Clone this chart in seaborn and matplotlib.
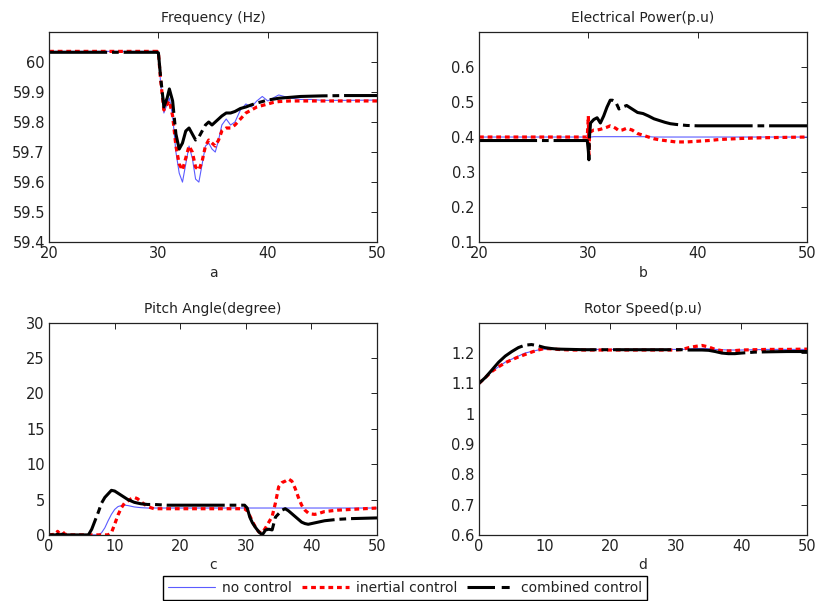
import seaborn as sns
import matplotlib
matplotlib.use('Agg')
import matplotlib.pyplot as plt

# a: frequency
t_freq = [20, 29.9, 30.0, 30.2, 30.5, 30.8, 31.0, 31.3, 31.6, 31.9,
          32.2, 32.5, 32.8, 33.1, 33.4, 33.7, 34.0, 34.3, 34.6, 34.9,
          35.2, 35.5, 35.8, 36.2, 36.6, 37.0, 37.5, 38.0, 38.5, 39.0,
          39.5, 40.0, 40.5, 41.0, 42.0, 43.0, 44.0, 45.0, 47.0, 50.0]
freq_none = [60.035, 60.035, 60.03, 59.93, 59.83, 59.86, 59.88, 59.82, 59.70, 59.63,
             59.60, 59.66, 59.72, 59.68, 59.61, 59.60, 59.66, 59.72, 59.73, 59.71,
             59.70, 59.74, 59.79, 59.81, 59.79, 59.80, 59.84, 59.86, 59.85, 59.87,
             59.885, 59.87, 59.88, 59.89, 59.88, 59.875, 59.875, 59.872, 59.872, 59.873]
freq_inertial = [60.035, 60.035, 60.03, 59.94, 59.84, 59.86, 59.87, 59.82, 59.72, 59.66,
                 59.64, 59.68, 59.72, 59.70, 59.65, 59.64, 59.67, 59.72, 59.74, 59.73,
                 59.72, 59.74, 59.77, 59.78, 59.78, 59.79, 59.81, 59.83, 59.84, 59.85,
                 59.855, 59.86, 59.865, 59.868, 59.87, 59.87, 59.87, 59.87, 59.87, 59.87]
freq_combined = [60.032, 60.032, 60.03, 59.95, 59.85, 59.88, 59.91, 59.87, 59.76, 59.71,
                 59.73, 59.77, 59.78, 59.76, 59.74, 59.75, 59.77, 59.79, 59.80, 59.79,
                 59.80, 59.81, 59.82, 59.83, 59.83, 59.835, 59.845, 59.85, 59.857, 59.863,
                 59.868, 59.873, 59.876, 59.879, 59.882, 59.885, 59.886, 59.887, 59.888, 59.888]

# b: electrical power
t_power = [20, 29.9, 30.0, 30.05, 30.1, 30.2, 30.5, 30.8, 31.1, 31.4,
           31.7, 32.0, 32.2, 32.5, 32.8, 33.1, 33.5, 34.0, 34.5, 35.0,
           35.5, 36.0, 36.5, 37.0, 37.5, 38.0, 39.0, 40.0, 41.0, 42.0,
           44.0, 46.0, 48.0, 50.0]
power_none = [0.40, 0.40, 0.45, 0.40, 0.40, 0.40, 0.401, 0.401, 0.401, 0.401,
              0.401, 0.401, 0.401, 0.401, 0.401, 0.401, 0.401, 0.401, 0.401, 0.401,
              0.401, 0.40, 0.40, 0.40, 0.40, 0.40, 0.40, 0.40, 0.40, 0.40,
              0.40, 0.40, 0.40, 0.40]
power_inertial = [0.40, 0.40, 0.46, 0.35, 0.40, 0.415, 0.42, 0.42, 0.422, 0.425,
                  0.428, 0.432, 0.43, 0.425, 0.418, 0.42, 0.425, 0.42, 0.41, 0.405,
                  0.40, 0.395, 0.392, 0.39, 0.388, 0.386, 0.386, 0.388, 0.39, 0.393,
                  0.396, 0.398, 0.399, 0.40]
power_combined = [0.39, 0.39, 0.36, 0.335, 0.40, 0.44, 0.45, 0.455, 0.44, 0.46,
                  0.485, 0.505, 0.505, 0.50, 0.48, 0.485, 0.49, 0.48, 0.47, 0.467,
                  0.46, 0.452, 0.447, 0.442, 0.438, 0.436, 0.433, 0.432, 0.432, 0.432,
                  0.432, 0.432, 0.432, 0.432]

# c: pitch angle
t_pitch = [0, 1.0, 1.3, 1.6, 2.0, 2.4, 3.0,
           6.0, 6.5, 7.0, 7.5, 8.0, 8.5, 9.0, 9.5,
           10.0, 10.5, 11.0, 11.5, 12.0, 12.5, 13.0, 13.5, 14.0,
           15.0, 16.0, 18.0, 20.0, 25.0, 29.8,
           30.2, 30.6, 31.0, 31.5, 32.0, 32.5, 33.0, 33.5, 34.0, 34.5,
           35.0, 35.5, 36.0, 36.5, 37.0, 37.5, 38.0, 38.5, 39.0, 39.5,
           40.0, 40.5, 41.0, 42.0, 43.0, 44.0, 46.0, 48.0, 50.0]
pitch_none = [0, 0, 0, 0, 0, 0, 0,
              0, 0, 0, 0, 0.3, 1.0, 2.0, 2.9,
              3.6, 4.0, 4.15, 4.2, 4.15, 4.05, 3.95, 3.9, 3.85,
              3.8, 3.8, 3.8, 3.8, 3.8, 3.8,
              3.8, 3.8, 3.8, 3.8, 3.8, 3.8, 3.8, 3.8, 3.8, 3.8,
              3.8, 3.8, 3.8, 3.8, 3.8, 3.8, 3.8, 3.8, 3.8, 3.8,
              3.8, 3.8, 3.8, 3.8, 3.8, 3.8, 3.8, 3.8, 3.8]
pitch_inertial = [0, 0.1, 0.5, 0.2, 0.5, 0.1, 0,
                  0, 0, 0, 0, 0, 0, 0, 0.3,
                  1.5, 2.8, 3.8, 4.5, 4.8, 5.1, 5.3, 5.1, 4.7,
                  4.0, 3.7, 3.7, 3.7, 3.7, 3.7,
                  3.4, 2.7, 1.9, 1.0, 0.4, 0.3, 1.0, 1.8, 2.6, 4.5,
                  6.8, 7.4, 7.6, 7.9, 7.6, 6.6, 5.3, 4.2, 3.5, 3.1,
                  2.95, 2.9, 3.0, 3.3, 3.4, 3.5, 3.6, 3.7, 3.8]
pitch_combined = [0, 0, 0.1, 0, 0.1, 0, 0,
                  0, 0.8, 2.0, 3.2, 4.5, 5.3, 5.8, 6.3,
                  6.2, 5.9, 5.6, 5.3, 5.0, 4.8, 4.6, 4.5, 4.4,
                  4.3, 4.3, 4.2, 4.2, 4.2, 4.2,
                  3.8, 2.5, 1.7, 1.0, 0.4, 0.0, 0.7, 0.8, 0.7, 2.5,
                  3.0, 3.5, 3.7, 3.4, 3.0, 2.6, 2.2, 1.8, 1.6, 1.5,
                  1.6, 1.7, 1.8, 2.0, 2.1, 2.2, 2.3, 2.35, 2.4]

# d: rotor speed
t_speed = [0, 1, 2, 3, 4, 5, 6, 7, 8, 9, 10, 11, 12, 14, 16, 20,
           25, 30, 31, 32, 33, 34, 35, 36, 37, 38, 39, 40, 42, 44, 47, 50]
speed_none = [1.10, 1.12, 1.14, 1.155, 1.17, 1.18, 1.19, 1.20, 1.205, 1.21, 1.213, 1.213, 1.212, 1.212, 1.212, 1.212,
              1.212, 1.212, 1.212, 1.213, 1.215, 1.215, 1.214, 1.212, 1.211, 1.21, 1.21, 1.21, 1.211, 1.212, 1.212, 1.212]
speed_inertial = [1.10, 1.12, 1.14, 1.155, 1.168, 1.178, 1.187, 1.195, 1.203, 1.21, 1.215, 1.214, 1.212, 1.21, 1.21, 1.21,
                  1.21, 1.21, 1.212, 1.218, 1.222, 1.225, 1.22, 1.212, 1.208, 1.207, 1.208, 1.21, 1.211, 1.212, 1.212, 1.213]
speed_combined = [1.10, 1.12, 1.145, 1.17, 1.19, 1.205, 1.218, 1.226, 1.228, 1.224, 1.218, 1.215, 1.213, 1.212, 1.211, 1.211,
                  1.211, 1.211, 1.211, 1.21, 1.21, 1.21, 1.209, 1.205, 1.20, 1.198, 1.198, 1.20, 1.203, 1.204, 1.205, 1.205]

series_labels = ['no control', 'inertial control', 'combined control']

sns.set_style('white')
plt.rcParams['font.family'] = ['DejaVu Sans']
plt.rcParams['text.color'] = '#222222'


def draw_panel(ax, t, none, inertial, combined, title, letter, xlim, ylim, yticks, yticklabels, xticks):
    sns.lineplot(x=t, y=none, ax=ax, color='#5b5bff', linewidth=0.8, estimator=None, legend=False)
    sns.lineplot(x=t, y=inertial, ax=ax, color='#ff0000', linewidth=2.3, estimator=None,
                 legend=False, linestyle=(0, (1.5, 1.2)))
    sns.lineplot(x=t, y=combined, ax=ax, color='black', linewidth=2.2, estimator=None,
                 legend=False, linestyle=(0, (19, 1.6, 2.2, 1.6)))
    ax.set_xlim(xlim)
    ax.set_ylim(ylim)
    ax.set_xticks(xticks)
    ax.set_xticklabels([str(v) for v in xticks])
    ax.set_yticks(yticks)
    ax.set_yticklabels(yticklabels)
    ax.set_title(title, fontsize=10, pad=7)
    ax.set_xlabel(letter, fontsize=10, labelpad=3)
    ax.set_ylabel('')
    ax.tick_params(direction='in', top=True, right=True, length=4, width=0.7,
                   labelsize=10.5, pad=3, colors='#222222')
    for sp in ax.spines.values():
        sp.set_color('#222222')
        sp.set_linewidth(0.9)


fig = plt.figure(figsize=(8.18, 6.01), dpi=100)
ax_a = fig.add_axes([0.060, 0.597, 0.401, 0.350])
ax_b = fig.add_axes([0.5856, 0.597, 0.401, 0.350])
ax_c = fig.add_axes([0.060, 0.110, 0.401, 0.353])
ax_d = fig.add_axes([0.5856, 0.110, 0.401, 0.353])

draw_panel(ax_a, t_freq, freq_none, freq_inertial, freq_combined, 'Frequency (Hz)', 'a',
           (20, 50), (59.4, 60.1), [59.4, 59.5, 59.6, 59.7, 59.8, 59.9, 60.0],
           ['59.4', '59.5', '59.6', '59.7', '59.8', '59.9', '60'], [20, 30, 40, 50])
draw_panel(ax_b, t_power, power_none, power_inertial, power_combined, 'Electrical Power(p.u)', 'b',
           (20, 50), (0.1, 0.7), [0.1, 0.2, 0.3, 0.4, 0.5, 0.6],
           ['0.1', '0.2', '0.3', '0.4', '0.5', '0.6'], [20, 30, 40, 50])
draw_panel(ax_c, t_pitch, pitch_none, pitch_inertial, pitch_combined, 'Pitch Angle(degree)', 'c',
           (0, 50), (0, 30), [0, 5, 10, 15, 20, 25, 30],
           ['0', '5', '10', '15', '20', '25', '30'], [0, 10, 20, 30, 40, 50])
draw_panel(ax_d, t_speed, speed_none, speed_inertial, speed_combined, 'Rotor Speed(p.u)', 'd',
           (0, 50), (0.6, 1.3), [0.6, 0.7, 0.8, 0.9, 1.0, 1.1, 1.2],
           ['0.6', '0.7', '0.8', '0.9', '1', '1.1', '1.2'], [0, 10, 20, 30, 40, 50])

handles = ax_a.get_lines()[:3]
leg = fig.legend(handles, series_labels, loc='lower center', bbox_to_anchor=(0.495, 0.002),
                 ncol=3, fontsize=10, frameon=True, fancybox=False, framealpha=1,
                 edgecolor='black', handlelength=3.4, handletextpad=0.5,
                 columnspacing=0.7, borderpad=0.35, borderaxespad=0)
leg.get_frame().set_linewidth(1.0)
# legend sample of the dash-dot line: long dash, gap, short dash
leg.get_lines()[2].set_linestyle((0, (9, 2.2, 2.6, 2.2)))

fig.savefig('out.png', dpi=100)
